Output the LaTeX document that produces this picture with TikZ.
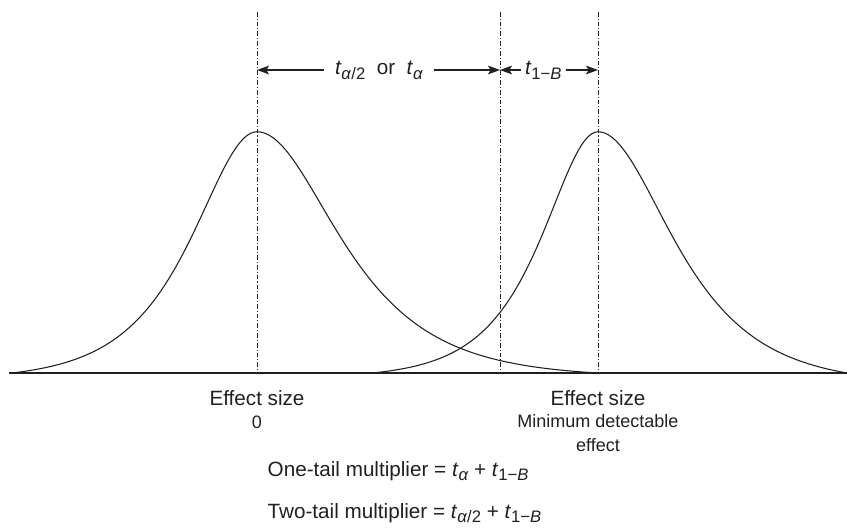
\documentclass[tikz,border=0pt]{standalone}
\usepackage{fontspec}
\setmainfont{Liberation Sans}
\usepackage{tikz}
\usetikzlibrary{arrows.meta}
\definecolor{tinta}{RGB}{35,31,32}
\newcommand{\tsub}[1]{\textit{t}\raisebox{-0.45ex}{\fontsize{12.5}{14}\selectfont #1}}

\begin{document}
\begin{tikzpicture}[x=0.75pt, y=-0.75pt,
    declare function={perfil(\q,\w,\z)=(1/cosh(\q/\w)-1/cosh(\z/\w))/(1-1/cosh(\z/\w));},
    curva/.style={line width=0.8pt, tinta},
    eixo/.style={line width=1.1pt, tinta},
    guia/.style={line width=0.6pt, tinta, dash pattern=on 3.5pt off 1.5pt on 0.8pt off 1.5pt},
    seta/.style={-{Stealth[length=9pt, width=6.5pt, inset=2pt]}, line width=1pt, tinta},
    rotulo/.style={font=\fontsize{15.5}{18}\selectfont, text=tinta},
    nota/.style={font=\fontsize{13.5}{17.6}\selectfont, text=tinta}
  ]
    \useasboundingbox (0,0) rectangle (847,528);
    % linhas guia
    \foreach \x/\n in {257/a, 500/b, 598/c} {
      \coordinate (topo\n) at (\x,12);
      \coordinate (base\n) at (\x,373);
      \coordinate (ponta\n) at (\x,70);
      \draw[guia] (topo\n) -- (base\n);
    }
    % eixo e curvas
    \coordinate (e0) at (9,373);
    \coordinate (e1) at (847,373);
    \draw[eixo] (e0) -- (e1);
    \draw[curva] plot[domain=-245:0, samples=70] ({257+\x}, {373-241.3*perfil(\x,57,245)})
      -- plot[domain=0:341, samples=90] ({257+\x}, {373-241.3*perfil(\x,72,341)});
    \draw[curva] plot[domain=-226:0, samples=70] ({598+\x}, {373-241.3*perfil(\x,49,226)})
      -- plot[domain=0:249, samples=70] ({598+\x}, {373-241.3*perfil(\x,66,249)});
    % rotulos de cima
    \node[rotulo, inner xsep=8pt] (ta) at (379,70) {\tsub{\textit{α}/2}\ \ or\ \ \tsub{\textit{α}}};
    \node[rotulo, inner xsep=3pt] (tb) at (543.3,70) {\tsub{1−\textit{B}}};
    \draw[seta] (ta) -- (pontaa);
    \draw[seta] (ta) -- (pontab);
    \draw[seta] (tb) -- (pontab);
    \draw[seta] (tb) -- (pontac);
    % rotulos do eixo
    \node[rotulo] (efa) at (257,398) {Effect size};
    \node[nota] (zero) at (257,422) {0};
    \node[rotulo] (efb) at (598,398) {Effect size};
    \node[nota, align=center] (minimo) at (598,433) {Minimum detectable\\effect};
    % multiplicadores
    \node[rotulo, anchor=base west] (uma) at (263,476) {One-tail multiplier = \tsub{\textit{α}} + \tsub{1−\textit{B}}};
    \node[rotulo, anchor=base west] (duas) at (263,518) {Two-tail multiplier = \tsub{\textit{α}/2} + \tsub{1−\textit{B}}};
  \end{tikzpicture}
\end{document}
